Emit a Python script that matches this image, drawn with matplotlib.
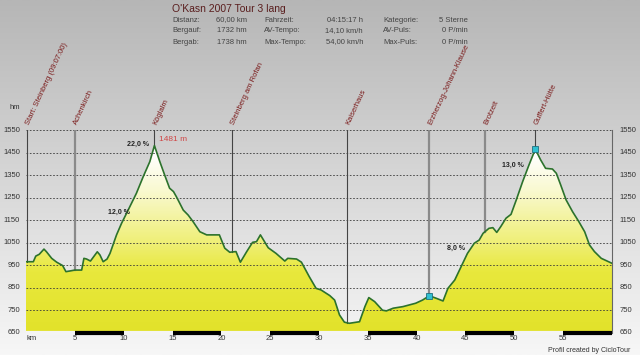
import numpy as np
import matplotlib.pyplot as plt
from matplotlib.colors import LinearSegmentedColormap

plt.rcParams['font.family'] = ['Liberation Sans', 'DejaVu Sans']

# elevation profile (km, m)
km = [0.0, 0.75, 1.0, 1.36, 1.84, 2.1, 2.63, 3.14, 3.75, 4.09, 4.5, 5.0, 5.7, 5.93,
      6.2, 6.6, 7.3, 7.57, 7.9, 8.3, 8.6, 9.27, 9.78, 10.3, 10.8, 11.3, 12.0, 12.68,
      13.15, 13.7, 14.2, 14.7, 15.1, 15.4, 16.1, 16.6, 17.1, 17.8, 18.5, 19.8, 20.35,
      20.86, 21.5, 21.95, 22.6, 23.2, 23.6, 24.0, 24.8, 25.6, 26.5, 26.8, 27.7, 28.2,
      29.0, 29.7, 30.2, 31.1, 31.6, 32.1, 32.6, 33.1, 34.15, 34.7, 35.1, 35.7, 36.5,
      36.9, 37.6, 38.6, 39.9, 40.6, 41.3, 42.0, 42.7, 43.2, 43.9, 44.55, 45.2, 45.9,
      46.4, 46.8, 47.4, 47.8, 48.2, 48.6, 49.15, 49.66, 50.2, 50.85, 51.5, 52.15,
      52.7, 53.2, 53.9, 54.3, 54.75, 55.3, 55.96, 56.6, 57.2, 57.7, 58.2, 58.9, 60.0]
hm = [966, 966, 991, 999, 1022, 1010, 981, 964, 949, 922, 925, 929, 929, 981,
      978, 969, 1010, 996, 966, 978, 1003, 1085, 1136, 1181, 1225, 1269, 1343, 1410,
      1481, 1410, 1350, 1292, 1277, 1254, 1195, 1173, 1144, 1099, 1085, 1085, 1026,
      1008, 1011, 964, 1011, 1052, 1055, 1085, 1028, 1003, 969, 981, 978, 964,
      900, 848, 841, 816, 796, 730, 698, 693, 700, 767, 807, 789, 751,
      748, 760, 767, 782, 796, 815, 804, 792, 848, 885, 944, 1003, 1048,
      1062, 1092, 1114, 1117, 1096, 1121, 1159, 1176, 1240, 1321, 1395, 1465,
      1417, 1380, 1377, 1358, 1306, 1240, 1188, 1144, 1099, 1040, 1011, 981, 959]

# waypoints
wp_names = ['Start: Steinberg (09:07:00)', 'Achenkirch', 'Köglalm', 'Steinberg am Rofan',
            'Kaiserhaus', 'Erzherzog-Johann-Klause', 'Brotzeit', 'Guffert-Hütte']
wp_km = [0.1, 5.0, 13.15, 21.1, 32.9, 41.3, 47.0, 52.15]
wp_gray = [False, True, False, False, False, True, True, False]
marker_km = [41.3, 52.15]

# gradient labels
grad_text = ['22,0 %', '12,0 %', '8,0 %', '13,0 %']
grad_km = [12.6, 10.6, 45.0, 51.0]
grad_hm = [1470, 1170, 1010, 1380]

yticks = list(range(650, 1551, 100))
xticks = list(range(5, 60, 5))

info_rows = [
    ['Distanz:', '60,00 km', 'Fahrzeit:', '04:15:17 h', 'Kategorie:', '5 Sterne'],
    ['Bergauf:', '1732 hm', 'AV-Tempo:', '14,10 km/h', 'AV-Puls:', '0 P/min'],
    ['Bergab:', '1738 hm', 'Max-Tempo:', '54,00 km/h', 'Max-Puls:', '0 P/min'],
]

W, H = 640, 355
fig = plt.figure(figsize=(W / 100, H / 100), dpi=100)

# figure background gradient
bg = fig.add_axes([0, 0, 1, 1])
bg.axis('off')
bgmap = LinearSegmentedColormap.from_list('bg', ['#f7f7f7', '#b6b6b6'])
bg.imshow(np.linspace(0, 1, 256).reshape(-1, 1), aspect='auto', cmap=bgmap,
          origin='lower', extent=[0, 1, 0, 1])
bg.set_xlim(0, 1)
bg.set_ylim(0, 1)

x0, x1 = 26, 612
ytop, ybot = 130, 333
ax = fig.add_axes([x0 / W, (H - ybot) / H, (x1 - x0) / W, (ybot - ytop) / H])
ax.patch.set_alpha(0)
ax.set_xlim(0, 60)
ax.set_ylim(650, 1550)
for s in ax.spines.values():
    s.set_visible(False)
ax.set_xticks([])
ax.set_yticks([])

# fill with vertical gradient
poly = ax.fill_between(km, hm, 650, color='none', lw=0)
fillmap = LinearSegmentedColormap.from_list(
    'fill', [(0, '#e2e22a'), (0.3, '#e8e83c'), (0.45, '#efef78'), (0.7, '#f9f9cf'),
             (0.88, '#ffffff'), (1, '#ffffff')])
img = ax.imshow(np.linspace(0, 1, 256).reshape(-1, 1), aspect='auto', cmap=fillmap,
                origin='lower', extent=[0, 60, 650, 1550], zorder=1)
img.set_clip_path(poly.get_paths()[0], transform=ax.transData)

# grid lines
for y in yticks:
    ax.axhline(y, color='#3a3a3a', lw=0.6, ls=(0, (2, 2)), zorder=2)

# waypoint lines
kmarr = np.array(km)
hmarr = np.array(hm)
for name, k, g in zip(wp_names, wp_km, wp_gray):
    h = np.interp(k, kmarr, hmarr)
    ax.plot([k, k], [1550, h], color='#8a8a8a' if g else '#444444',
            lw=1.6 if g else 0.8, zorder=3)
    ax.annotate(name, (k, 1550), xytext=(3, 3), textcoords='offset points',
                rotation=65, rotation_mode='anchor', ha='left', va='bottom',
                fontsize=5.5, color='#7a1a1a', zorder=5, annotation_clip=False)

# right axis line
ax.plot([60, 60], [650, 1550], color='#666666', lw=0.8, zorder=3, clip_on=False)

# profile line
ax.plot(km, hm, color='#2c722c', lw=1.2, zorder=4)
for k in marker_km:
    ax.plot(k, np.interp(k, kmarr, hmarr), 's', ms=4, mfc='#30c0d0', mec='#207080',
            mew=0.6, zorder=5)

ax.text(13.6, 1500, '1481 m', fontsize=6, color='#d04545', zorder=5)
for t, k, h in zip(grad_text, grad_km, grad_hm):
    ax.text(k, h, t, fontsize=5, fontweight='bold', color='#222222', ha='right',
            va='bottom', zorder=5)

# bottom km bar
for a in range(5, 60, 10):
    ax.plot([a, a + 5], [650, 650], color='black', lw=3, solid_capstyle='butt',
            zorder=6, clip_on=False)
for a in range(0, 60, 10):
    ax.plot([a, a + 5], [650, 650], color='#f4f4f4', lw=3, solid_capstyle='butt',
            zorder=6, clip_on=False)

# tick labels
for y in yticks:
    ax.text(-0.6, y, str(y), fontsize=5.5, color='#333333', ha='right', va='center')
    ax.text(60.8, y, str(y), fontsize=5.5, color='#333333', ha='left', va='center')
for x in xticks:
    ax.text(x, 625, str(x), fontsize=5.5, color='#333333', ha='center', va='center')
ax.text(0.6, 625, 'km', fontsize=5.5, color='#333333', ha='center', va='center')
fig.text(10 / W, 1 - 107 / H, 'hm', fontsize=5.5, color='#333333', va='center')
fig.text(630 / W, 1 - 350 / H, 'Profil created by CicloTour', fontsize=5,
         color='#333333', ha='right', va='center')

# header
fig.text(172 / W, 1 - 9 / H, "O'Kasn 2007 Tour 3 lang", fontsize=7.5,
         color='#5a1e1e', va='center')
col_x = [172, 247, 264, 363, 383, 468]
col_ha = ['left', 'right', 'left', 'right', 'left', 'right']
for r, row in enumerate(info_rows):
    y = 1 - (20 + 11 * r) / H
    for c, t in enumerate(row):
        fig.text(col_x[c] / W, y, t, fontsize=5.5, color='#444444', ha=col_ha[c],
                 va='center')

fig.savefig('out.png', dpi=100)
